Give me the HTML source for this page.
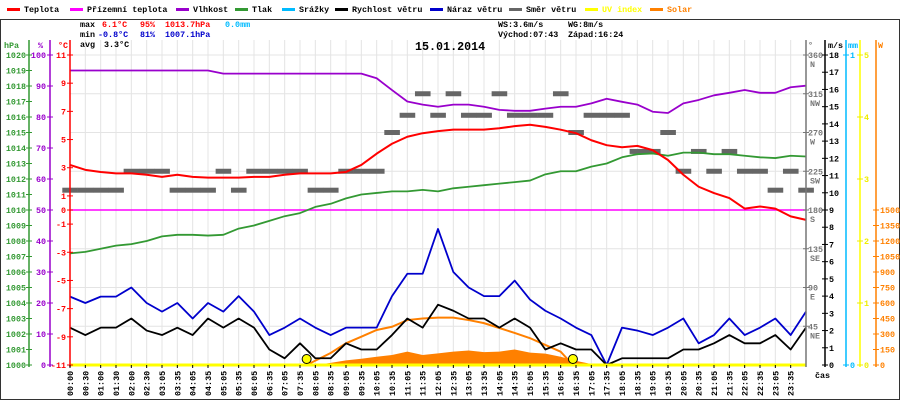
<!DOCTYPE html>
<html><head><meta charset="utf-8"><style>
html,body{margin:0;padding:0;background:#fff;}
svg{display:block;}
text{font-family:"Liberation Mono",monospace;}
</style></head><body>
<svg id="chart" width="900" height="400" viewBox="0 0 900 400" xmlns="http://www.w3.org/2000/svg">
<rect x="0" y="0" width="900" height="400" fill="#fff"/>
<line x1="0" y1="19.5" x2="900" y2="19.5" stroke="#333" stroke-width="1"/>
<line x1="0.5" y1="19" x2="0.5" y2="400" stroke="#333"/>
<line x1="899.5" y1="19" x2="899.5" y2="400" stroke="#333"/>
<line x1="0" y1="399.5" x2="900" y2="399.5" stroke="#333"/>
<g id="grid"></g>
<g id="series"></g>
<g id="axes"></g>
<g id="legend" font-size="8.4" font-weight="bold"></g>
<g font-size="8.4" font-weight="bold">
<text x="80" y="27" fill="#000">max</text><text x="102" y="27" fill="#f00">6.1°C</text><text x="140" y="27" fill="#f00">95%</text><text x="165" y="27" fill="#f00">1013.7hPa</text><text x="225" y="27" fill="#0bf">0.0mm</text>
<text x="80" y="37" fill="#000">min</text><text x="98" y="37" fill="#00c">-0.8°C</text><text x="140" y="37" fill="#00c">81%</text><text x="165" y="37" fill="#00c">1007.1hPa</text>
<text x="80" y="47" fill="#000">avg</text><text x="104" y="47" fill="#000">3.3°C</text>
<text x="498" y="27" fill="#000">WS:3.6m/s</text><text x="568" y="27" fill="#000">WG:8m/s</text>
<text x="498" y="37" fill="#000">Východ:07:43</text><text x="568" y="37" fill="#000">Západ:16:24</text>
</g>
<text x="415" y="50" font-size="11.7" font-weight="bold" fill="#000">15.01.2014</text>
</svg>
<script>
const timeLabels=["00:00","00:30","01:00","01:30","02:00","02:30","03:05","03:35","04:05","04:35","05:05","05:35","06:05","06:35","07:05","07:35","08:05","08:35","09:05","09:35","10:05","10:35","11:05","11:35","12:05","12:35","13:05","13:35","14:05","14:35","15:05","15:35","16:05","16:35","17:05","17:35","18:05","18:35","19:05","19:35","20:05","20:35","21:05","21:35","22:05","22:35","23:05","23:35"];
const temp=[3.2,2.85,2.7,2.6,2.6,2.5,2.35,2.5,2.35,2.3,2.3,2.3,2.35,2.35,2.5,2.6,2.6,2.6,2.7,3.2,4.0,4.7,5.2,5.45,5.6,5.7,5.7,5.7,5.8,5.95,6.05,5.9,5.7,5.45,4.95,4.6,4.45,4.55,4.25,3.55,2.5,1.65,1.2,0.85,0.1,0.25,0.1,-0.45,-0.7];
const humidity=[95,95,95,95,95,95,95,95,95,95,94,94,94,94,94,94,94,94,94,94,92.5,88.7,85,84,83.3,84,84,83.3,82.3,82,82,82.7,83.3,83.3,84.4,85.9,84.9,84,81.7,81.3,84.4,85.5,87,87.8,88.7,87.8,87.8,89.6,90.1];
const pressure=[1007.2,1007.3,1007.5,1007.7,1007.8,1008.0,1008.3,1008.4,1008.4,1008.35,1008.4,1008.8,1009.0,1009.3,1009.6,1009.8,1010.2,1010.4,1010.75,1011.0,1011.1,1011.2,1011.2,1011.3,1011.2,1011.4,1011.5,1011.6,1011.7,1011.8,1011.9,1012.3,1012.5,1012.5,1012.8,1013.0,1013.4,1013.6,1013.65,1013.5,1013.7,1013.7,1013.6,1013.6,1013.5,1013.4,1013.35,1013.5,1013.45];
const windSpeed=[2.17,1.74,2.17,2.17,2.7,2.0,1.74,2.17,1.74,2.7,2.17,2.7,2.17,0.9,0.39,1.26,0.39,0.39,1.26,0.9,0.9,1.74,2.7,2.17,3.5,3.15,2.7,2.7,2.17,2.7,2.17,0.9,1.26,0.9,0.9,0,0.39,0.39,0.39,0.39,0.9,0.9,1.26,1.74,1.26,1.26,1.74,0.9,2.17];
const windGust=[3.97,3.6,3.97,3.97,4.5,3.6,3.1,3.6,2.7,3.6,3.1,4.0,3.1,1.74,2.17,2.7,2.17,1.74,2.17,2.17,2.17,4.0,5.3,5.3,7.9,5.4,4.5,4.0,4.0,4.9,3.8,3.15,2.7,2.17,1.74,0,2.17,2.0,1.74,2.17,2.7,1.26,1.74,2.7,1.74,2.17,2.7,1.74,3.1];
const windDir=[203,203,203,203,225,225,225,203,203,203,225,203,225,225,225,225,203,203,225,225,225,270,290,315,290,315,290,290,315,290,290,290,315,270,290,290,290,248,248,270,225,248,225,248,225,225,203,225,203];
const solarIdx=[16,17,18,19,20,21,22,23,24,25,26,27,28,29,30,31,32,33,34,35];
const solarVals=[0,20,45,60,80,97,130,97,113,130,140,125,130,150,120,110,80,40,10,0];
const clearMin=[463,510,540,570,600,630,660,690,720,750,780,810,840,870,900,930,960,984];
const clearVals=[0,116,210,274,339,370,435,450,458,458,435,405,358,310,260,194,129,0];
const sunMin=[463,984];

const NS="http://www.w3.org/2000/svg";
const X0=70,X1=806,YT=55,YB=365;
function xi(i){return X0+i*(X1-X0)/48;}
function xm(m){return X0+m*(X1-X0)/1440;}
function yT(t){return 210-t*(YB-YT)/22;}
function yH(h){return YB-h*(YB-YT)/100;}
function yP(p){return YB-(p-1000)*(YB-YT)/20;}
function yW(w){return YB-w*(YB-YT)/18;}
function yD(d){return YB-d*(YB-YT)/360;}
function yS(s){return YB-s*(YB-210)/1500;}
function el(tag,attrs,parent){const e=document.createElementNS(NS,tag);for(const k in attrs)e.setAttribute(k,attrs[k]);parent.appendChild(e);return e;}
const grid=document.getElementById('grid'),ser=document.getElementById('series'),axes=document.getElementById('axes'),leg=document.getElementById('legend');

for(let i=0;i<=48;i++){const g=el('line',{x1:xi(i),y1:40,x2:xi(i),y2:YB,stroke:'#e4e4e4','stroke-width':1},grid);

}
for(let d=0;d<=360;d+=45){const g=el('line',{x1:X0,y1:yD(d),x2:X1,y2:yD(d),stroke:'#e4e4e4','stroke-width':1},grid);

}

let sp=`M${xi(solarIdx[0])},${YB}`;solarIdx.forEach((ix,k)=>{sp+=` L${xi(ix)},${yS(solarVals[k])}`;});sp+=` L${xi(solarIdx[solarIdx.length-1])},${YB} Z`;
const sa=el('path',{d:sp,fill:'#ff8000'},ser);


const cl=el('polyline',{points:clearMin.map((m,k)=>xm(m)+','+yS(clearVals[k])).join(' '),fill:'none',stroke:'#ff8000','stroke-width':2},ser);


windDir.forEach((d,i)=>{const r=el('rect',{x:xi(i)-7.7,y:yD(d)-2.5,width:15.6,height:5,fill:'#666'},ser);

});
const mz=el('line',{x1:X0,y1:yT(0),x2:X1,y2:yT(0),stroke:'#f0f','stroke-width':1.5},ser);


function line(vals,fy,color,name,w){const p=el('polyline',{points:vals.map((v,i)=>xi(i)+','+fy(v)).join(' '),fill:'none',stroke:color,'stroke-width':w||2,'stroke-linejoin':'round'},ser);

}
line(humidity,yH,'#9900cc','humidity-line',1.8);
line(pressure,yP,'#339933','pressure-line',1.8);
line(windGust,yW,'#0000cc','wind-gust-line',1.8);
line(windSpeed,yW,'#000','wind-speed-line',1.8);
line(temp,yT,'#f00','temperature-line',2);
const uv=el('line',{x1:X0,y1:YB,x2:X1,y2:YB,stroke:'#ff0','stroke-width':3},ser);


sunMin.forEach(m=>{const c=el('circle',{cx:xm(m),cy:359,r:4.5,fill:'#ff0',stroke:'#000','stroke-width':1},ser);

});

function vaxis(x,color,name){const a=el('line',{x1:x,y1:40,x2:x,y2:YB+2,stroke:color,'stroke-width':1.5},axes);

}
function tick(x,y,color,label,lx,anchor,name){el('line',{x1:x-3,y1:y,x2:x+3,y2:y,stroke:color},axes);
const t=el('text',{x:lx,y:y+3,fill:color,'font-size':8.4,'font-weight':'bold','text-anchor':anchor},axes);t.textContent=label;

}
vaxis(29,'#339933','pressure-axis');vaxis(50,'#9900cc','humidity-axis');vaxis(70,'#f00','temperature-axis');
vaxis(806,'#777','direction-axis');vaxis(825,'#000','wind-speed-axis');vaxis(846,'#0bf','rain-axis');vaxis(860,'#ff0','uv-axis');vaxis(876,'#ff8000','solar-axis');
for(let p=1000;p<=1020;p++)tick(29,yP(p),'#339933',String(p),26,'end','pressure-tick-label');
for(let h=0;h<=100;h+=10)tick(50,yH(h),'#9900cc',String(h),46,'end','humidity-tick-label');
[11,9,7,5,3,1,0,-1,-3,-5,-7,-9,-11].forEach(t=>tick(70,yT(t),'#f00',String(t),66,'end','temperature-tick-label'));
const dn=['','NE','E','SE','S','SW','W','NW','N'];
for(let k=1;k<=8;k++){const d=k*45;tick(806,yD(d),'#777',String(d),808,'start','direction-tick-label');
const t=el('text',{x:810,y:yD(d)+12,fill:'#777','font-size':8.4,'font-weight':'bold'},axes);t.textContent=dn[k];

}
for(let w=0;w<=18;w++)tick(825,yW(w),'#000',String(w),829,'start','wind-tick-label');
tick(846,yW(0),'#0bf','0',850,'start','rain-tick-label');tick(846,yW(18),'#0bf','1',850,'start','rain-tick-label');
for(let u=0;u<=5;u++)tick(860,YB-u*62,'#ee0',String(u),864,'start','uv-tick-label');
for(let s=0;s<=1500;s+=150)tick(876,yS(s),'#ff8000',String(s),880,'start','solar-tick-label');
[['hPa',4,'#339933'],['%',38,'#9900cc'],['°C',58,'#f00'],['°',808,'#777'],['m/s',828,'#000'],['mm',848,'#0bf'],['W',878,'#ff8000']].forEach(a=>{const t=el('text',{x:a[1],y:48,fill:a[2],'font-size':8.4,'font-weight':'bold'},axes);t.textContent=a[0];

});
timeLabels.forEach((l,i)=>{el('line',{x1:xi(i),y1:YB,x2:xi(i),y2:YB+3,stroke:'#000'},axes);
const t=el('text',{x:0,y:0,fill:'#000','font-size':8.4,'font-weight':'bold',transform:`translate(${xi(i)+3},396) rotate(-90)`},axes);t.textContent=l;

});
const cas=el('text',{x:815,y:378,fill:'#000','font-size':8.4,'font-weight':'bold'},axes);cas.textContent='čas';



const L=[['Teplota','#f00',7,'#000'],['Přízemní teplota','#f0f',70,'#000'],['Vlhkost','#9900cc',176,'#000'],['Tlak','#339933',235,'#000'],['Srážky','#0bf',282,'#000'],['Rychlost větru','#000',335,'#000'],['Náraz větru','#0000cc',430,'#000'],['Směr větru','#666',509,'#000'],['UV index','#ff0',585,'#ff0'],['Solar','#ff8000',650,'#ff8000']];
L.forEach(e=>{const g=el('g',{},leg);


el('rect',{x:e[2],y:8,width:13,height:3,fill:e[1]},g);
const t=el('text',{x:e[2]+17,y:12,fill:e[3]},g);t.textContent=e[0];});
</script>
</body></html>
